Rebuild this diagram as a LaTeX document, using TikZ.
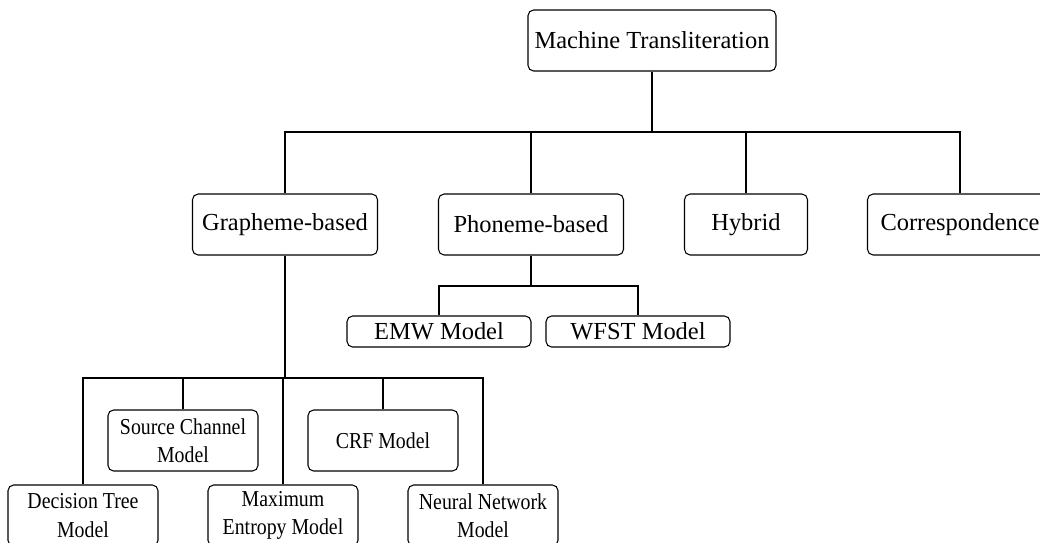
\documentclass[tikz,border=0pt]{standalone}
\usepackage{fontspec}
\setmainfont{Liberation Serif}
\newfontfamily\narrowfont[FakeStretch=0.87]{Liberation Serif}
\usetikzlibrary{positioning}

\begin{document}
\begin{tikzpicture}[x=0.025cm, y=-0.025cm, line width=0.75pt,
    box/.style={draw, rounded corners=4pt, align=center, inner sep=0pt,
        font=\fontsize{17.4}{20}\selectfont, minimum height=61*0.025cm},
    thin box/.style={box, minimum height=31*0.025cm},
    small box/.style={box, font=\narrowfont\fontsize{16.2}{20}\selectfont,
        minimum width=150*0.025cm}]
    \clip (0,0) rectangle (1040,542);
    % top
    \node[box, minimum width=248*0.025cm] (mt) at (652,40.5) {Machine Transliteration};
    % second level
    \node[box, minimum width=185*0.025cm] (gb) at (285,224.5) {Grapheme-based};
    \node[box, minimum width=185*0.025cm] (pb) at (531,224.5) {Phoneme-based};
    \node[box, minimum width=123*0.025cm] (hy) at (746,224.5) {Hybrid};
    \node[box, minimum width=185*0.025cm] (co) at (960,224.5) {Correspondence};
    % phoneme models
    \node[thin box, minimum width=184*0.025cm] (emw) at (439,331.5) {EMW Model};
    \node[thin box, minimum width=184*0.025cm] (wfst) at (638,331.5) {WFST Model};
    % grapheme models
    \node[small box] (sc) at (183,440.5) {Source Channel\\Model};
    \node[small box] (crf) at (383,440.5) {CRF Model};
    \node[small box] (dt) at (83,515.5) {Decision Tree\\Model};
    \node[small box] (me) at (283,515.5) {Maximum\\Entropy Model};
    \node[small box] (nn) at (483,515.5) {Neural Network\\Model};

    \coordinate (bus1) at (0,132);
    \coordinate (bus2) at (0,286);
    \coordinate (bus3) at (0,378);

    \draw (mt.south) -- (mt.south |- bus1);
    \draw (gb.north) |- (co.north |- bus1) -- (co.north);
    \foreach \n in {pb,hy} \draw (\n.north) -- (\n.north |- bus1);

    \draw (pb.south) -- (pb.south |- bus2);
    \draw (emw.north) |- (wfst.north |- bus2) -- (wfst.north);

    \draw (gb.south) -- (gb.south |- bus3);
    \draw (dt.north) |- (nn.north |- bus3) -- (nn.north);
    \foreach \n in {sc,crf,me} \draw (\n.north) -- (\n.north |- bus3);
\end{tikzpicture}
\end{document}
